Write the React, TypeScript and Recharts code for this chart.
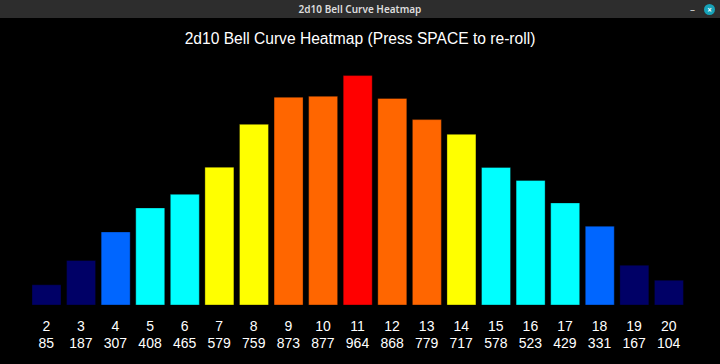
import React from "react";
import { BarChart, Bar, XAxis, YAxis, Cell } from "recharts";

const sums = [2, 3, 4, 5, 6, 7, 8, 9, 10, 11, 12, 13, 14, 15, 16, 17, 18, 19, 20];
const counts = [85, 187, 307, 408, 465, 579, 759, 873, 877, 964, 868, 779, 717, 578, 523, 429, 331, 167, 104];

const data = sums.map((s, i) => ({ sum: String(s), count: counts[i] }));
const maxCount = Math.max(...counts);

function heatColor(v: number): string {
  const f = v / maxCount;
  if (f >= 1) return "#ff0000";
  if (f >= 0.8) return "#ff6600";
  if (f >= 0.6) return "#ffff00";
  if (f >= 0.4) return "#00ffff";
  if (f >= 0.2) return "#0066ff";
  return "#000066";
}

const FONT = '"Liberation Sans", Arial, Helvetica, sans-serif';

const Tick = (props: any) => {
  const { x, payload } = props;
  const idx = payload.index;
  return (
    <g>
      <text x={x} y={331} fill="#ffffff" fontSize={14} fontFamily={FONT} textAnchor="middle">
        {payload.value}
      </text>
      <text x={x} y={348} fill="#ffffff" fontSize={14} fontFamily={FONT} textAnchor="middle">
        {counts[idx]}
      </text>
    </g>
  );
};

export default function App() {
  return (
    <div style={{ position: "absolute", left: 0, top: 0, width: 720, height: 364, background: "#000", overflow: "hidden" }}>
      <BarChart
        width={720}
        height={364}
        data={data}
        margin={{ top: 67, right: 34, bottom: 0, left: 29 }}
        barCategoryGap={3}
      >
        <XAxis dataKey="sum" height={59} axisLine={false} tickLine={false} tick={<Tick />} interval={0} />
        <YAxis hide domain={[0, 1000]} />
        <Bar dataKey="count" isAnimationActive={false} stroke="rgba(0,0,0,0.35)" strokeWidth={1}>
          {data.map((d, i) => (
            <Cell key={i} fill={heatColor(d.count)} />
          ))}
        </Bar>
      </BarChart>
      <div
        style={{
          position: "absolute",
          left: 0,
          top: 30,
          width: 720,
          textAlign: "center",
          color: "#ffffff",
          fontFamily: FONT,
          fontSize: 15.6,
          lineHeight: "18px",
        }}
      >
        2d10 Bell Curve Heatmap (Press SPACE to re-roll)
      </div>
      <div
        style={{
          position: "absolute",
          left: 0,
          top: 0,
          width: 720,
          height: 18,
          background: "#2d2d2d",
          color: "#dddddd",
          fontFamily: '"Noto Sans", "DejaVu Sans", sans-serif',
          fontSize: 10,
          fontWeight: 600,
          lineHeight: "18px",
          textAlign: "center",
        }}
      >
        2d10 Bell Curve Heatmap
        <span style={{ position: "absolute", left: 690, top: 0, color: "#cccccc", fontWeight: 400 }}>–</span>
        <span
          style={{
            position: "absolute",
            left: 704,
            top: 4,
            width: 11,
            height: 11,
            borderRadius: 6,
            background: "#17a2b8",
            color: "#ffffff",
            fontSize: 8,
            lineHeight: "11px",
            textAlign: "center",
            fontWeight: 700,
          }}
        >
          ×
        </span>
      </div>
    </div>
  );
}
